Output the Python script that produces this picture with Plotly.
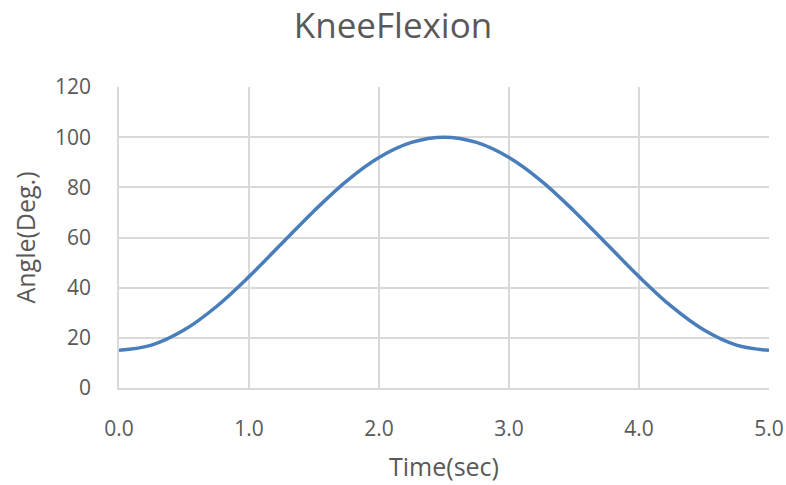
import plotly.graph_objects as go

time_sec = [0.0, 0.25, 0.5, 0.75, 1.0, 1.25, 1.5, 1.75, 2.0, 2.25, 2.5,
            2.75, 3.0, 3.25, 3.5, 3.75, 4.0, 4.25, 4.5, 4.75, 5.0]
angle_deg = [15.0, 17.1, 23.1, 32.5, 44.4, 57.5, 70.6, 82.5, 91.9, 97.9, 100.0,
             97.9, 91.9, 82.5, 70.6, 57.5, 44.4, 32.5, 23.1, 17.1, 15.0]
x_ticks = [0, 1, 2, 3, 4, 5]
x_tick_labels = ["0.0", "1.0", "2.0", "3.0", "4.0", "5.0"]
y_ticks = [0, 20, 40, 60, 80, 100, 120]

FONT = "Open Sans, Noto Sans, DejaVu Sans, sans-serif"
GRAY = "#595959"
GRID = "#d9d9d9"
CLEAR = "rgba(0,0,0,0)"

fig = go.Figure()
fig.add_trace(go.Scatter(
    x=time_sec, y=angle_deg, mode="lines",
    line=dict(color="#4a7ebb", width=3.5, shape="spline", smoothing=1.0),
    showlegend=False, hoverinfo="skip",
))

fig.update_layout(
    width=786, height=485,
    margin=dict(l=119, r=17, t=87, b=97),
    paper_bgcolor="white", plot_bgcolor="white",
    title=dict(text="KneeFlexion", x=0.5, xanchor="center", y=0.946, yanchor="middle",
               font=dict(family=FONT, size=35, color=GRAY)),
    font=dict(family=FONT, color=GRAY),
)
fig.update_xaxes(
    range=[0, 5], tickvals=x_ticks, ticktext=x_tick_labels,
    showgrid=True, gridcolor=GRID, gridwidth=1.5,
    showline=True, linecolor=GRID, linewidth=1.5,
    zeroline=False, ticks="outside", ticklen=21, tickcolor=CLEAR,
    automargin=False,
    tickfont=dict(family=FONT, size=21, color=GRAY),
    title=dict(text="Time(sec)", font=dict(family=FONT, size=25, color=GRAY), standoff=18),
)
fig.update_yaxes(
    range=[0, 120], tickvals=y_ticks,
    showgrid=True, gridcolor=GRID, gridwidth=1.5,
    showline=True, linecolor=GRID, linewidth=1.5,
    zeroline=False, ticks="outside", ticklen=22, tickcolor=CLEAR,
    automargin=False,
    tickfont=dict(family=FONT, size=21, color=GRAY),
    title=dict(text="Angle(Deg.)", font=dict(family=FONT, size=25, color=GRAY), standoff=12),
)

fig.write_html("out.html")
